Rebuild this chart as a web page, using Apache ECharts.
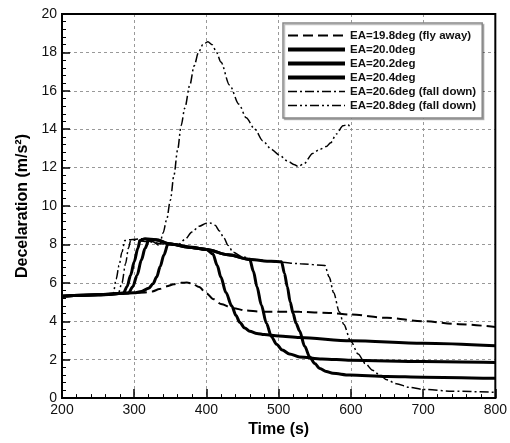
<!DOCTYPE html>
<html>
<head>
<meta charset="utf-8">
<script src="https://cdn.jsdelivr.net/npm/echarts@6/dist/echarts.min.js"></script>
<style>
html,body{margin:0;padding:0;background:#fff;}
#c{width:510px;height:443px;}
</style>
</head>
<body>
<div id="c"></div>
<script>
// Legend names
var names = ['EA=19.8deg (fly away)', 'EA=20.0deg', 'EA=20.2deg', 'EA=20.4deg', 'EA=20.6deg (fall down)', 'EA=20.8deg (fall down)'];

// EA=19.8 (fly away)
var t198 = [200,250,300,315,325,335,345,355,365,373,380,390,400,410,420,437,455,474,500,529,570,600,650,700,750,800];
var v198 = [5.3,5.38,5.48,5.5,5.55,5.68,5.82,5.93,6.0,6.02,5.97,5.78,5.45,5.15,4.9,4.68,4.56,4.5,4.5,4.49,4.43,4.35,4.18,4.0,3.85,3.7];

// EA=20.0
var t200 = [200,250,300,310,320,326,331,336,341,347,355,380,400,409,415,420,427,435,441,446,453,460,470,480,500,529,600,700,800];
var v200 = [5.3,5.38,5.48,5.55,5.72,5.95,6.3,6.85,7.45,8.05,8.0,7.85,7.74,7.5,6.9,6.3,5.5,4.8,4.3,3.95,3.65,3.48,3.37,3.31,3.24,3.16,2.98,2.85,2.72];

// EA=20.2
var t202 = [200,250,292,298,304,310,315,320,330,350,375,400,430,460,465,470,476,483,490,497,505,515,529,560,600,700,800];
var v202 = [5.3,5.38,5.47,5.8,6.4,7.2,7.8,8.2,8.25,8.02,7.86,7.74,7.46,7.22,6.6,5.8,4.85,3.9,3.2,2.8,2.5,2.3,2.14,2.04,1.97,1.9,1.85];

// EA=20.4
var t204 = [200,250,285,290,295,300,305,308,315,330,350,375,400,430,460,490,504,508,512,516,520,524,529,536,543,550,557,566,575,598,650,700,800];
var v204 = [5.3,5.38,5.46,5.8,6.4,7.1,7.8,8.2,8.3,8.25,8.02,7.86,7.74,7.46,7.22,7.12,7.1,6.5,5.8,5.0,4.4,3.9,3.5,2.7,2.14,1.8,1.54,1.38,1.29,1.2,1.13,1.09,1.03];

// EA=20.6 (fall down)
var t206 = [200,250,278,283,288,292,295,300,320,340,360,370,380,390,400,405,412,418,424,430,437,450,470,500,530,564,570,576,584,590,600,610,620,630,640,650,663,680,700,740,800];
var v206 = [5.3,5.38,5.45,6.0,7.0,7.8,8.2,8.22,8.15,8.02,7.95,8.25,8.65,8.95,9.1,9.12,9.0,8.7,8.35,7.95,7.6,7.35,7.2,7.08,7.0,6.9,6.3,5.5,4.5,3.85,2.95,2.3,1.8,1.45,1.2,0.95,0.75,0.57,0.45,0.36,0.3];

// EA=20.8 (fall down)
var t208 = [200,250,271,275,279,283,287,295,310,325,335,340,345,350,355,360,365,370,377,383,389,395,402,408,414,420,432,445,455,467,478,490,501,512,522,527,535,547,557,566,572,580,589,596,600];
var v208 = [5.3,5.38,5.45,6.2,6.9,7.6,8.2,8.25,8.3,8.15,7.95,8.6,9.3,10.3,11.6,12.9,14.2,15.1,16.3,17.3,18.0,18.4,18.55,18.4,18.0,17.5,16.3,15.3,14.6,14.0,13.4,12.95,12.65,12.35,12.15,12.06,12.2,12.74,12.95,13.1,13.3,13.75,14.18,14.25,14.0];

var times = [t198, t200, t202, t204, t206, t208];
var vals = [v198, v200, v202, v204, v206, v208];

var styles = [
  {width: 2, legendWidth: 2, type: [10, 5]},
  {width: 3, legendWidth: 4, type: 'solid'},
  {width: 3, legendWidth: 4, type: 'solid'},
  {width: 3, legendWidth: 4, type: 'solid'},
  {width: 1.5, legendWidth: 1.5, type: [9, 3, 2, 3]},
  {width: 1.5, legendWidth: 1.5, type: [9, 3, 2, 3, 2, 3]}
];

function zip(t, v) { return t.map(function (x, i) { return [x, v[i]]; }); }

var series = names.map(function (n, i) {
  return {
    name: n,
    type: 'line',
    data: zip(times[i], vals[i]),
    symbol: 'none',
    smooth: 0.3,
    smoothMonotone: 'x',
    lineStyle: {color: '#000', width: styles[i].width, type: styles[i].type},
    itemStyle: {color: '#000'},
    z: 3
  };
});

var legendData = names.map(function (n, i) {
  return {name: n, lineStyle: {color: '#000', width: styles[i].legendWidth, type: styles[i].type}};
});

var FONT = 'Liberation Sans, Arial, sans-serif';

var chart = echarts.init(document.getElementById('c'), null, {renderer: 'canvas'});
chart.setOption({
  animation: false,
  backgroundColor: '#fff',
  grid: {left: 62, right: 13, top: 14, bottom: 36, show: true, borderColor: '#000', borderWidth: 2, backgroundColor: 'transparent', z: 5},
  legend: {
    orient: 'vertical',
    left: 283, top: 23,
    data: legendData,
    itemWidth: 57, itemHeight: 13, itemGap: 1,
    padding: [6, 6, 6, 3],
    backgroundColor: '#fff',
    borderColor: '#888', borderWidth: 1.5,
    shadowColor: 'rgba(0,0,0,0.25)', shadowBlur: 0, shadowOffsetX: 1.5, shadowOffsetY: 1.5,
    itemStyle: {opacity: 0, color: 'rgba(0,0,0,0)', borderWidth: 0},
    textStyle: {fontFamily: FONT, fontSize: 11.5, fontWeight: 'bold', color: '#111', lineHeight: 13},
    z: 10
  },
  xAxis: {
    type: 'value', min: 200, max: 800, interval: 100,
    name: 'Time (s)', nameLocation: 'middle', nameGap: 18,
    nameTextStyle: {fontFamily: FONT, fontSize: 16, fontWeight: 'bold', color: '#000'},
    axisLine: {show: true, onZero: false, lineStyle: {color: '#000', width: 2}},
    axisTick: {show: true, inside: true, length: 9, lineStyle: {color: '#000', width: 1.5}},
    minorTick: {show: true, splitNumber: 5, length: 4, lineStyle: {color: '#000', width: 1}},
    axisLabel: {fontFamily: FONT, fontSize: 14, color: '#111', margin: 5},
    splitLine: {show: true, lineStyle: {color: '#999', width: 1, type: [3, 3]}}
  },
  yAxis: {
    type: 'value', min: 0, max: 20, interval: 2,
    name: 'Decelaration (m/s²)', nameLocation: 'middle', nameGap: 25,
    nameTextStyle: {fontFamily: FONT, fontSize: 16, fontWeight: 'bold', color: '#000'},
    axisLine: {show: true, onZero: false, lineStyle: {color: '#000', width: 2}},
    axisTick: {show: true, inside: true, length: 8, lineStyle: {color: '#000', width: 1.5}},
    minorTick: {show: true, splitNumber: 5, length: 4, lineStyle: {color: '#000', width: 1}},
    axisLabel: {fontFamily: FONT, fontSize: 14, color: '#111', margin: 5},
    splitLine: {show: true, lineStyle: {color: '#999', width: 1, type: [3, 3]}}
  },
  series: series
});
</script>
</body>
</html>
